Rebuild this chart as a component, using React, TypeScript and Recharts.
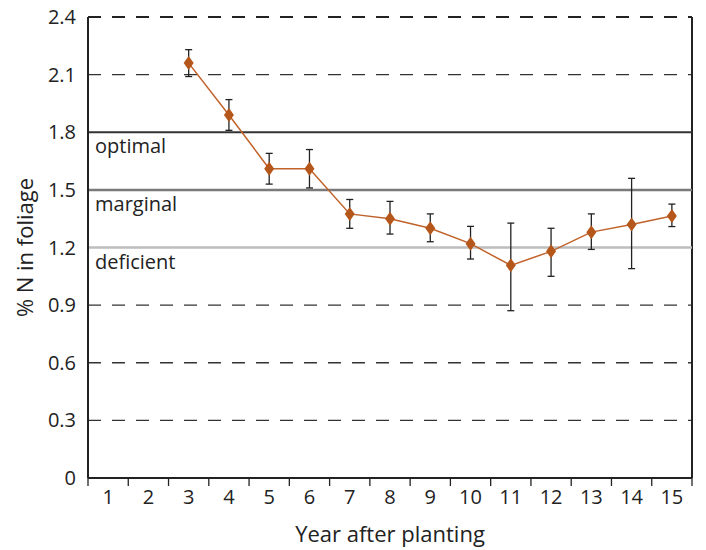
import { LineChart, Line, XAxis, YAxis, ReferenceLine, ErrorBar } from "recharts";

const YEARS = [3, 4, 5, 6, 7, 8, 9, 10, 11, 12, 13, 14, 15];
const N_PCT = [2.16, 1.89, 1.61, 1.61, 1.375, 1.35, 1.3, 1.22, 1.107, 1.18, 1.28, 1.32, 1.364];
const ERR_LOW = [0.07, 0.08, 0.08, 0.1, 0.075, 0.08, 0.07, 0.08, 0.236, 0.13, 0.09, 0.23, 0.055];
const ERR_HIGH = [0.07, 0.08, 0.08, 0.1, 0.075, 0.09, 0.075, 0.09, 0.22, 0.12, 0.095, 0.24, 0.062];

const X_LABELS = [1, 2, 3, 4, 5, 6, 7, 8, 9, 10, 11, 12, 13, 14, 15];
const Y_TICKS = [0, 0.3, 0.6, 0.9, 1.2, 1.5, 1.8, 2.1, 2.4];
const DASH_LEVELS = [0.3, 0.6, 0.9, 2.1];
const ZONES = [
  { y: 1.8, name: "optimal", color: "#333333", width: 2 },
  { y: 1.5, name: "marginal", color: "#7a7a7a", width: 2.5 },
  { y: 1.2, name: "deficient", color: "#bdbdbd", width: 2.5 },
];

const W = 706;
const H = 550;
const MARGIN = { top: 17, right: 14, bottom: 0, left: 0 };
const Y_AXIS_W = 88;
const BAND = (W - MARGIN.right - Y_AXIS_W) / X_LABELS.length;

const FONT = "'Open Sans', 'Noto Sans', sans-serif";
const TICK = { fontSize: 20, fill: "#222", fontFamily: FONT };

const points = YEARS.map((year, i) => ({
  year,
  n: N_PCT[i],
  err: [ERR_LOW[i], ERR_HIGH[i]],
}));

function Diamond({ cx, cy }: { cx?: number; cy?: number }) {
  if (cx == null || cy == null) return null;
  return (
    <polygon
      points={`${cx},${cy - 7} ${cx + 5},${cy} ${cx},${cy + 7} ${cx - 5},${cy}`}
      fill="#b5561b"
    />
  );
}

// label under each year, with the tick marks sitting on the band edges
function YearTick({ x, y, payload, index }: any) {
  const left = x - BAND / 2;
  const last = index === X_LABELS.length - 1;
  return (
    <g>
      <line x1={left} y1={y} x2={left} y2={y + 8} stroke="#222" strokeWidth={1.3} />
      {last && <line x1={left + BAND} y1={y} x2={left + BAND} y2={y + 8} stroke="#222" strokeWidth={1.3} />}
      <text x={x} y={y + 12} dy="0.71em" textAnchor="middle" {...TICK}>
        {payload.value}
      </text>
    </g>
  );
}

export default function App() {
  return (
    <div style={{ position: "absolute", left: 0, top: 0, background: "#fff" }}>
      <LineChart width={W} height={H} data={points} margin={MARGIN}>
        <XAxis
          type="number"
          dataKey="year"
          domain={[0.5, 15.5]}
          ticks={X_LABELS}
          interval={0}
          height={72}
          tickSize={0}
          tickMargin={0}
          tickLine={false}
          axisLine={{ stroke: "#222", strokeWidth: 2 }}
          tick={<YearTick />}
          label={{
            value: "Year after planting",
            position: "insideBottom",
            offset: 8,
            style: { fontSize: 22, fill: "#222", fontFamily: FONT },
          }}
        />
        <YAxis
          type="number"
          domain={[0, 2.4]}
          ticks={Y_TICKS}
          width={Y_AXIS_W}
          tickSize={0}
          tickMargin={12}
          tick={TICK}
          tickFormatter={(v: number) => (v === 0 ? "0" : v.toFixed(1))}
          axisLine={{ stroke: "#222", strokeWidth: 2 }}
          label={{
            value: "% N in foliage",
            angle: -90,
            position: "insideLeft",
            offset: 25,
            style: { fontSize: 22, fill: "#222", fontFamily: FONT, textAnchor: "middle" },
          }}
        />
        {DASH_LEVELS.map((v) => (
          <ReferenceLine key={v} y={v} stroke="#333" strokeWidth={1.3} strokeDasharray="13 11" />
        ))}
        <ReferenceLine y={2.4} stroke="#222" strokeWidth={2} strokeDasharray="13 11" />
        <ReferenceLine x={15.5} stroke="#222" strokeWidth={2} />
        {ZONES.map((z) => (
          <ReferenceLine
            key={z.name}
            y={z.y}
            stroke={z.color}
            strokeWidth={z.width}
            label={{
              value: z.name,
              position: "insideTopLeft",
              offset: 7,
              style: { fontSize: 20, fill: "#222", fontFamily: FONT },
            }}
          />
        ))}
        <Line
          type="linear"
          dataKey="n"
          stroke="#c0622a"
          strokeWidth={1.5}
          dot={<Diamond />}
          activeDot={false}
          isAnimationActive={false}
        >
          <ErrorBar dataKey="err" direction="y" width={3.5} stroke="#222" strokeWidth={1.3} isAnimationActive={false} />
        </Line>
      </LineChart>
    </div>
  );
}
